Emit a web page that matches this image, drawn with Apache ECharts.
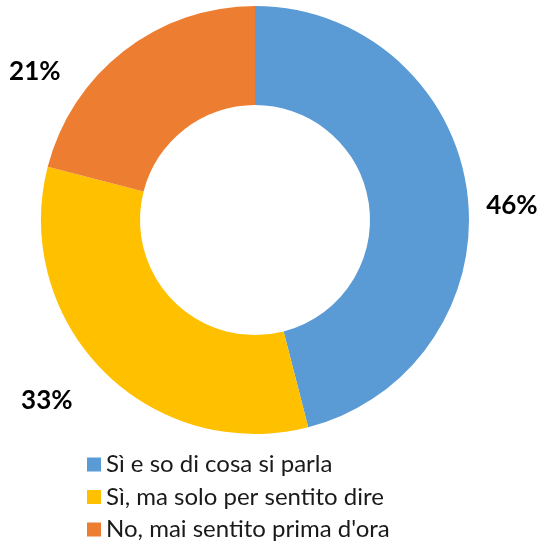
<!DOCTYPE html>
<html>
<head>
<meta charset="utf-8">
<script src="https://cdn.jsdelivr.net/npm/echarts@6/dist/echarts.min.js"></script>
<style>html,body{margin:0;padding:0;background:#fff}#c{width:540px;height:550px}</style>
</head>
<body>
<div id="c"></div>
<script>
const categories = ["Sì e so di cosa si parla", "Sì, ma solo per sentito dire", "No, mai sentito prima d'ora"];
const values = [46, 33, 21];
const colors = ["#5B9BD5", "#FFC000", "#ED7D31"];
const labelNudge = [[-6, 15], [-12, 15], [-46, 37]];

const chart = echarts.init(document.getElementById('c'), null, {renderer: 'canvas'});
chart.setOption({
  animation: false,
  color: colors,
  legend: {
    orient: 'vertical',
    left: 87,
    top: 452,
    height: 200,
    padding: 0,
    icon: 'rect',
    itemWidth: 14,
    itemHeight: 14,
    itemGap: 7.5,
    itemTextGap: 7,
    textStyle: {fontFamily: 'Lato', fontSize: 24, color: '#1a1a1a', lineHeight: 25},
    data: categories
  },
  series: [{
    type: 'pie',
    center: [255, 220],
    radius: [115, 214],
    startAngle: 90,
    clockwise: true,
    avoidLabelOverlap: false,
    label: {
      show: true,
      position: 'outside',
      formatter: p => p.value + '%',
      fontFamily: 'Lato',
      fontWeight: 'bold',
      fontSize: 26,
      color: '#000',
      distanceToLabelLine: 5
    },
    labelLine: {show: false, length: 20, length2: 0},
    labelLayout: p => ({dx: labelNudge[p.dataIndex][0], dy: labelNudge[p.dataIndex][1]}),
    emphasis: {disabled: true},
    data: categories.map((n, i) => ({name: n, value: values[i]}))
  }]
});
</script>
</body>
</html>
